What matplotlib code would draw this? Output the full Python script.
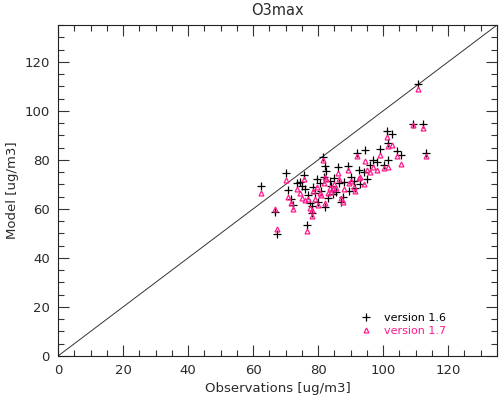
import numpy as np
import matplotlib
matplotlib.use("Agg")
import matplotlib.pyplot as plt
from matplotlib.ticker import MultipleLocator

# observed O3max per station and the two model versions
obs = [62.5, 66.8, 67.3, 70.2, 70.7, 71.5, 72.3, 73.5, 74.5, 75.0,
       75.8, 76.0, 76.5, 77.0, 77.5, 78.0, 78.2, 78.5, 79.0, 79.5,
       80.0, 80.5, 81.0, 81.4, 81.8, 82.2, 82.5, 82.0, 83.0, 83.5,
       84.0, 84.5, 85.0, 85.5, 86.0, 86.5, 87.0, 87.6, 88.0, 89.3,
       89.5, 90.0, 91.0, 91.4, 91.9, 92.5, 93.0, 94.0, 94.5, 95.0,
       96.0, 97.0, 98.0, 99.0, 100.1, 101.1, 101.4, 101.4, 102.7, 104.2,
       105.5, 109.3, 110.6, 112.1, 113.1]
v16 = [69.4, 58.9, 49.8, 74.8, 67.8, 64.0, 61.5, 70.5, 71.0, 69.5,
       73.9, 68.0, 53.5, 65.5, 62.5, 58.4, 61.2, 69.0, 66.5, 72.0,
       63.0, 70.5, 67.5, 81.3, 73.0, 77.5, 75.5, 60.9, 64.5, 71.5,
       69.5, 66.0, 72.5, 67.0, 77.0, 70.5, 63.0, 65.0, 71.0, 77.6,
       67.5, 73.0, 71.5, 68.7, 82.7, 76.0, 70.0, 75.0, 84.1, 72.0,
       78.0, 80.0, 79.3, 84.4, 78.0, 91.6, 86.8, 80.0, 90.6, 83.8,
       82.0, 94.7, 111.0, 94.7, 82.7]
v17 = [66.4, 59.9, 51.7, 71.8, 65.0, 62.5, 60.0, 68.0, 66.5, 64.5,
       72.1, 63.5, 51.1, 64.0, 60.5, 57.0, 59.5, 67.5, 64.0, 69.0,
       61.5, 66.5, 65.5, 80.0, 70.5, 73.0, 72.0, 62.3, 66.5, 68.5,
       67.0, 68.0, 70.0, 68.5, 74.6, 72.0, 64.5, 63.0, 68.0, 75.9,
       70.5, 71.5, 69.0, 67.3, 81.4, 72.5, 73.0, 70.0, 79.7, 76.0,
       75.0, 77.3, 76.0, 82.0, 76.6, 89.2, 85.7, 77.3, 86.0, 81.6,
       78.4, 94.3, 109.0, 92.9, 81.6]

pink = '#ff1a8c'
grey = '#2a2a2a'

fig = plt.figure(figsize=(4.99, 4.04), dpi=100)
ax = fig.add_axes([0.1162, 0.1188, 0.8798, 0.8192])

lim = 135
ax.plot([0, lim], [0, lim], color='#333333', lw=0.7)
ax.plot(obs, v16, '+', color='black', ms=5.5, mew=0.9, label='version 1.6')
ax.plot(obs + [0], v17 + [0], '^', color=pink, mfc='none', ms=3.5, mew=0.9,
        label='version 1.7')

ax.set_xlim(0, lim)
ax.set_ylim(0, lim)
ax.xaxis.set_major_locator(MultipleLocator(20))
ax.yaxis.set_major_locator(MultipleLocator(20))
ax.xaxis.set_minor_locator(MultipleLocator(5))
ax.yaxis.set_minor_locator(MultipleLocator(5))
ax.tick_params(which='both', direction='in', top=True, right=True,
               labelsize=9.5, width=0.8, color='#333333', labelcolor=grey)
ax.tick_params(which='major', length=8, pad=6)
ax.tick_params(which='minor', length=4)
for s in ax.spines.values():
    s.set_linewidth(0.8)
    s.set_color('#222222')

ax.set_title('O3max', fontsize=10.5, pad=7, color=grey)
ax.set_xlabel('Observations [ug/m3]', fontsize=9.5, labelpad=3, color=grey)
ax.set_ylabel('Model [ug/m3]', fontsize=9.5, labelpad=4, color=grey)

ax.legend(loc='lower right', bbox_to_anchor=(0.906, 0.03), frameon=False,
          fontsize=8, labelcolor='linecolor', handlelength=1.0,
          handletextpad=1.1, labelspacing=0.3)

fig.savefig('out.png', dpi=100)
